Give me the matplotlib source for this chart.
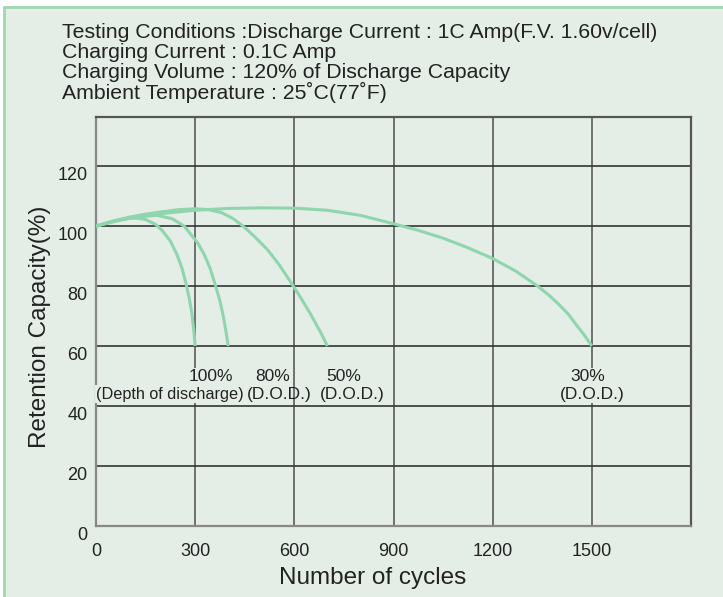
import matplotlib
matplotlib.use("Agg")
import matplotlib.pyplot as plt
import matplotlib.transforms as mtransforms
from matplotlib.patches import Rectangle

# cycles vs retention capacity (%)
DOD100_X = [0, 30, 60, 90, 120, 150, 180, 200, 225, 245, 260, 272, 282, 290, 296, 300]
DOD100_Y = [100, 101, 101.9, 102.5, 102.7, 102.2, 100.6, 98.6, 95, 90.5, 86, 81, 76, 71, 65, 60]

DOD80_X = [0, 40, 80, 130, 185, 230, 267, 291, 310, 327, 345, 362, 375, 385, 393, 400]
DOD80_Y = [100, 101.3, 102.3, 103.1, 103.6, 102.5, 100, 96.7, 94, 90.6, 86, 80, 75, 70, 65, 60]

DOD50_X = [0, 50, 100, 150, 200, 250, 300, 340, 380, 415, 445, 480, 520, 555, 591, 620, 650, 680, 700]
DOD50_Y = [100, 101.6, 103, 104, 104.8, 105.5, 105.8, 105.5, 104.5, 102.5, 100, 96.5, 92, 87, 81, 76, 70.5, 64.5, 60]

DOD30_X = [0, 50, 100, 150, 200, 300, 400, 500, 600, 700, 800, 900, 975, 1050, 1125,
           1200, 1270, 1336, 1370, 1403, 1430, 1450, 1475, 1500]
DOD30_Y = [100, 101.4, 102.6, 103.5, 104.2, 105.3, 105.9, 106.1, 106, 105.3, 103.6, 100.8, 98.6, 96, 92.8,
           89.2, 85, 80, 77, 73.6, 70.5, 67.5, 64, 60]

X_TICKS = [0, 300, 600, 900, 1200, 1500]
Y_TICKS = [0, 20, 40, 60, 80, 100, 120]

HEADER = [
    "Testing Conditions :Discharge Current : 1C Amp(F.V. 1.60v/cell)",
    "Charging Current : 0.1C Amp",
    "Charging Volume : 120% of Discharge Capacity",
    "Ambient Temperature : 25\u02daC(77\u02daF)",
]

BG = "#e4eee6"
CURVE = "#8fd5ad"
TEXT = "#222222"

plt.rcParams["font.family"] = ["Liberation Sans", "DejaVu Sans"]

fig = plt.figure(figsize=(7.23, 5.97), dpi=100)
fig.patch.set_facecolor("white")
# light green panel with a green border along the top and left
fig.patches.append(Rectangle((4 / 723, -0.01), 1.0, (597 - 7) / 597 + 0.01,
                             transform=fig.transFigure, facecolor=BG,
                             edgecolor="#9fd8b0", linewidth=2, zorder=-10))

ax = fig.add_axes([96 / 723, 71 / 597, 595 / 723, 409.3 / 597])
ax.set_facecolor(BG)

ax.set_xlim(0, 1800)
ax.set_ylim(0, 136.5)
ax.set_xticks(X_TICKS)
ax.set_yticks(Y_TICKS)
ax.tick_params(length=0, labelsize=13, colors=TEXT)
ax.tick_params(axis="y", pad=6)
ax.tick_params(axis="x", pad=12)

for x in X_TICKS[1:]:
    ax.axvline(x, color="#5a5a5a", linewidth=1.2, zorder=1)
for y in Y_TICKS[1:]:
    ax.axhline(y, color="#333333", linewidth=1.2, zorder=1)

for side in ["left", "bottom"]:
    ax.spines[side].set_color("#888888")
    ax.spines[side].set_linewidth(1.6)
for side in ["top", "right"]:
    ax.spines[side].set_color("#555555")
    ax.spines[side].set_linewidth(1.6)

for xs, ys in [(DOD100_X, DOD100_Y), (DOD80_X, DOD80_Y),
               (DOD50_X, DOD50_Y), (DOD30_X, DOD30_Y)]:
    ax.plot(xs, ys, color=CURVE, linewidth=2.2, solid_joinstyle="round",
            solid_capstyle="butt", zorder=3)

box = dict(facecolor=BG, edgecolor="none", pad=1)
lab = dict(ha="center", va="center", color=TEXT, zorder=4)
ax.text(347, 49.7, "100%", bbox=box, fontsize=12.5, **lab)
ax.text(224, 44, "(Depth of discharge)", bbox=box, fontsize=11.7, **lab)
ax.text(535, 49.7, "80%", fontsize=12.5, **lab)
ax.text(553, 44, "(D.O.D.)", fontsize=12.5, **lab)
ax.text(750, 49.7, "50%", fontsize=12.5, **lab)
ax.text(776, 44, "(D.O.D.)", fontsize=12.5, **lab)
ax.text(1489, 49.7, "30%", bbox=box, fontsize=12.5, **lab)
ax.text(1500, 44, "(D.O.D.)", bbox=box, fontsize=12.5, **lab)

ax.set_xlabel("Number of cycles", fontsize=17.5, color=TEXT, va="center")
ax.xaxis.set_label_coords(0.4655, -0.127)
ax.set_ylabel("Retention Capacity(%)", fontsize=17.5, color=TEXT, va="center")
ax.yaxis.set_label_coords(-0.094, 0.486)

# y tick labels sit a little below their grid lines
offset = mtransforms.ScaledTranslation(0, -0.07, fig.dpi_scale_trans)
for t in ax.get_yticklabels():
    t.set_transform(t.get_transform() + offset)

for i, line in enumerate(HEADER):
    fig.text(62 / 723, 1 - (33 + 19.7 * i) / 597, line, ha="left", va="center",
             fontsize=15.3, color=TEXT)

fig.savefig("out.png", dpi=100, facecolor=fig.get_facecolor())
